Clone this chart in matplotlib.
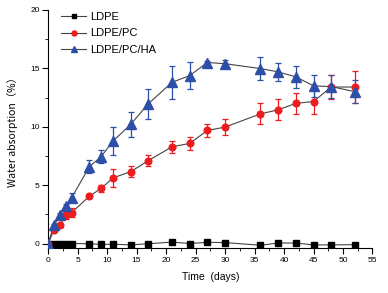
import numpy as np
import matplotlib.pyplot as plt
from matplotlib.ticker import MultipleLocator

# data
days = [0, 1, 2, 3, 4, 7, 9, 11, 14, 17, 21, 24, 27, 30, 36, 39, 42, 45, 48, 52]

ldpe = [0.0, 0.0, 0.0, 0.0, 0.0, -0.02, -0.08, -0.06, -0.12, -0.02, 0.12, 0.0,
        0.1, 0.08, -0.15, 0.04, 0.04, -0.12, -0.12, -0.1]
ldpe_err = [0.0] * len(days)

ldpe_pc = [0.0, 1.15, 1.6, 2.4, 2.65, 4.05, 4.72, 5.62, 6.15, 7.1, 8.28, 8.57,
           9.68, 9.97, 11.1, 11.45, 12.0, 12.16, 13.4, 13.4]
ldpe_pc_err = [0.0, 0.15, 0.12, 0.3, 0.4, 0.15, 0.3, 0.75, 0.45, 0.45, 0.5, 0.55,
               0.57, 0.65, 0.9, 0.9, 0.93, 1.1, 1.0, 1.4]

ldpe_pc_ha = [0.0, 1.55, 2.42, 3.2, 3.93, 6.58, 7.44, 8.77, 10.2, 11.97, 13.8, 14.38,
              15.5, 15.4, 14.98, 14.7, 14.27, 13.5, 13.44, 13.0]
ldpe_pc_ha_err = [0.0, 0.15, 0.15, 0.2, 0.4, 0.55, 0.57, 1.2, 1.1, 1.28, 1.42, 1.14,
                  0.1, 0.35, 1.0, 0.8, 0.93, 0.94, 1.0, 0.97]

plt.rcParams['font.family'] = ['Liberation Sans', 'DejaVu Sans']

fig = plt.figure(figsize=(3.88, 2.93), dpi=100)
ax = fig.add_axes([0.124, 0.153, 0.836, 0.813])

line_col = '#444444'
series = [
    (ldpe, ldpe_err, 's', 'black', 'LDPE', 4.5),
    (ldpe_pc, ldpe_pc_err, 'o', '#ee1c1c', 'LDPE/PC', 4.8),
    (ldpe_pc_ha, ldpe_pc_ha_err, '^', '#2e4fa8', 'LDPE/PC/HA', 6.5),
]
for vals, err, mk, col, lab, ms in series:
    ax.plot(days, vals, '-', color=line_col, lw=0.8, zorder=2)
    if any(err):
        ax.errorbar(days, vals, yerr=err, fmt='none', ecolor=col, elinewidth=0.9,
                    capsize=2.2, capthick=0.9, zorder=3)
    ax.plot(days, vals, mk, color=col, ms=ms, ls='none', zorder=4)
    ax.plot([], [], '-', marker=mk, color=line_col, mfc=col, mec=col,
            ms=ms * 0.75, lw=0.8, label=lab)

ax.set_xlim(0, 55)
ax.set_ylim(-0.4, 20)
ax.xaxis.set_major_locator(MultipleLocator(5))
ax.xaxis.set_minor_locator(MultipleLocator(2.5))
ax.yaxis.set_major_locator(MultipleLocator(5))
ax.yaxis.set_minor_locator(MultipleLocator(2.5))
ax.spines['top'].set_visible(False)
ax.spines['right'].set_visible(False)
for s in ('left', 'bottom'):
    ax.spines[s].set_linewidth(0.8)
ax.tick_params(which='major', direction='out', length=4, width=0.8,
               labelsize=6, pad=2)
ax.tick_params(which='minor', direction='out', length=2, width=0.6)

ax.set_xlabel('Time  (days)', fontsize=7.5, labelpad=6)
ax.set_ylabel('Water absorption（%）', fontsize=7.5, labelpad=9,
              family=['Noto Sans CJK SC', 'Liberation Sans'])

ax.legend(loc='upper left', frameon=False, fontsize=8, handlelength=2.3,
          handletextpad=0.3, labelspacing=0.6, borderaxespad=0.3,
          bbox_to_anchor=(0.015, 1.025))

fig.savefig('out.png', dpi=100)
